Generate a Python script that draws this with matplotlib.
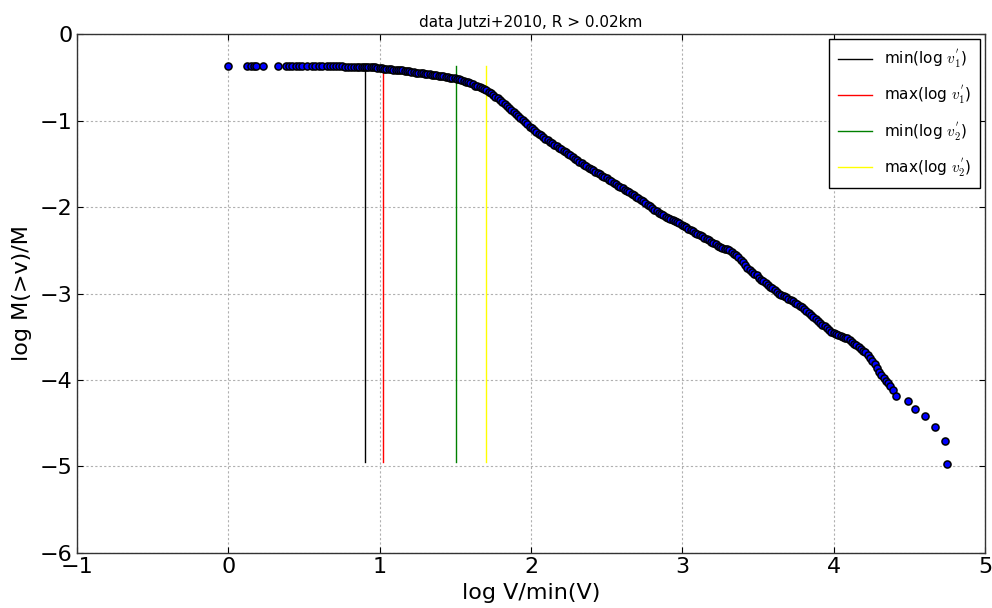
import matplotlib
matplotlib.use("Agg")
import matplotlib.pyplot as plt

# ---- data ----
x_sparse = [0.0, 0.126, 0.15, 0.17, 0.18, 0.23, 0.325, 0.38, 0.40, 0.42, 0.45, 0.47,
            0.49, 0.52, 0.55, 0.57, 0.60, 0.62, 0.65, 0.67, 0.69, 0.71, 0.73, 0.75,
            0.77, 0.79, 0.81, 0.83, 0.85, 0.865]
y_sparse = [-0.37, -0.37, -0.37, -0.37, -0.37, -0.37, -0.37, -0.37, -0.37, -0.37, -0.37, -0.37,
            -0.37, -0.37, -0.37, -0.37, -0.37, -0.37, -0.372, -0.372, -0.373, -0.374, -0.375, -0.375,
            -0.376, -0.377, -0.378, -0.379, -0.38, -0.38]

x_dense = [0.88, 0.895, 0.91, 0.925, 0.94, 0.955, 0.97, 0.985, 1.00, 1.015, 1.03, 1.045,
           1.06, 1.075, 1.09, 1.105, 1.12, 1.135, 1.15, 1.165, 1.18, 1.195, 1.21, 1.225,
           1.24, 1.255, 1.27, 1.285, 1.30, 1.315, 1.33, 1.345, 1.36, 1.375, 1.39, 1.405,
           1.42, 1.435, 1.45, 1.465, 1.48, 1.495, 1.51, 1.525, 1.54, 1.555, 1.57, 1.585,
           1.60, 1.615, 1.63, 1.645, 1.66, 1.675, 1.69, 1.705, 1.72, 1.735, 1.75, 1.765,
           1.78, 1.795, 1.81, 1.825, 1.84, 1.855, 1.87, 1.885, 1.90, 1.915, 1.93, 1.945,
           1.96, 1.975, 1.99, 2.005, 2.02, 2.035, 2.05, 2.065, 2.08, 2.095, 2.11, 2.125,
           2.14, 2.155, 2.17, 2.185, 2.20, 2.215, 2.23, 2.245, 2.26, 2.275, 2.29, 2.305,
           2.32, 2.335, 2.35, 2.365, 2.38, 2.395, 2.41, 2.425, 2.44, 2.455, 2.47, 2.485,
           2.50, 2.515, 2.53, 2.545, 2.56, 2.575, 2.59, 2.605, 2.62, 2.635, 2.65, 2.665,
           2.68, 2.695, 2.71, 2.725, 2.74, 2.755, 2.77, 2.785, 2.80, 2.815, 2.83, 2.845,
           2.86, 2.875, 2.89, 2.905, 2.92, 2.935, 2.95, 2.965, 2.98, 2.995, 3.01, 3.025,
           3.04, 3.055, 3.07, 3.085, 3.10, 3.115, 3.13, 3.145, 3.16, 3.175, 3.19, 3.205,
           3.22, 3.235, 3.25, 3.265, 3.28, 3.295, 3.31, 3.325, 3.34, 3.355, 3.37, 3.385,
           3.40, 3.415, 3.43, 3.445, 3.46, 3.475, 3.49, 3.505, 3.52, 3.535, 3.55, 3.565,
           3.58, 3.595, 3.61, 3.625, 3.64, 3.655, 3.67, 3.685, 3.70, 3.715, 3.73, 3.745,
           3.76, 3.775, 3.79, 3.805, 3.82, 3.835, 3.85, 3.865, 3.88, 3.895, 3.91, 3.925,
           3.94, 3.955, 3.97, 3.985, 4.00, 4.015, 4.03, 4.045, 4.06, 4.075, 4.09, 4.105,
           4.12, 4.135, 4.15, 4.165, 4.18, 4.195, 4.21, 4.225, 4.24, 4.255, 4.27, 4.285,
           4.30, 4.315, 4.33, 4.345, 4.36, 4.375, 4.39, 4.41]
y_dense = [-0.38, -0.38, -0.38, -0.383, -0.385, -0.385, -0.385, -0.388, -0.39, -0.395, -0.40, -0.40,
           -0.40, -0.405, -0.41, -0.413, -0.415, -0.418, -0.42, -0.425, -0.43, -0.433, -0.435, -0.44,
           -0.445, -0.448, -0.45, -0.455, -0.46, -0.463, -0.465, -0.47, -0.475, -0.478, -0.48, -0.485,
           -0.49, -0.495, -0.50, -0.503, -0.505, -0.51, -0.515, -0.522, -0.53, -0.54, -0.55, -0.56,
           -0.57, -0.583, -0.595, -0.605, -0.615, -0.625, -0.635, -0.65, -0.665, -0.683, -0.70, -0.723,
           -0.745, -0.768, -0.79, -0.813, -0.835, -0.858, -0.88, -0.903, -0.925, -0.948, -0.97, -0.995,
           -1.02, -1.045, -1.07, -1.09, -1.11, -1.13, -1.15, -1.17, -1.19, -1.21, -1.23, -1.248,
           -1.265, -1.283, -1.30, -1.315, -1.33, -1.348, -1.365, -1.383, -1.40, -1.42, -1.44, -1.46,
           -1.48, -1.495, -1.51, -1.528, -1.545, -1.56, -1.575, -1.59, -1.605, -1.623, -1.64, -1.655,
           -1.67, -1.685, -1.70, -1.718, -1.735, -1.753, -1.77, -1.785, -1.80, -1.815, -1.83, -1.848,
           -1.865, -1.883, -1.90, -1.918, -1.935, -1.955, -1.975, -1.993, -2.01, -2.03, -2.05, -2.065,
           -2.08, -2.095, -2.11, -2.123, -2.135, -2.15, -2.165, -2.178, -2.19, -2.205, -2.22, -2.235,
           -2.25, -2.265, -2.28, -2.295, -2.31, -2.325, -2.34, -2.355, -2.37, -2.385, -2.40, -2.415,
           -2.43, -2.445, -2.46, -2.47, -2.48, -2.49, -2.50, -2.52, -2.54, -2.56, -2.58, -2.61,
           -2.64, -2.675, -2.71, -2.73, -2.75, -2.77, -2.79, -2.815, -2.84, -2.86, -2.88, -2.90,
           -2.92, -2.94, -2.96, -2.98, -3.00, -3.015, -3.03, -3.045, -3.06, -3.075, -3.09, -3.105,
           -3.12, -3.14, -3.16, -3.18, -3.20, -3.225, -3.25, -3.275, -3.30, -3.32, -3.34, -3.36,
           -3.38, -3.40, -3.42, -3.44, -3.46, -3.47, -3.48, -3.49, -3.50, -3.51, -3.52, -3.54,
           -3.56, -3.58, -3.60, -3.62, -3.64, -3.66, -3.68, -3.715, -3.75, -3.785, -3.82, -3.865,
           -3.91, -3.945, -3.98, -4.01, -4.04, -4.075, -4.11, -4.18]

x_tail = [4.49, 4.536, 4.60, 4.67, 4.735, 4.75]
y_tail = [-4.24, -4.33, -4.42, -4.54, -4.70, -4.97]

vline_x = [0.90, 1.02, 1.505, 1.705]
vline_colors = ["black", "red", "green", "yellow"]
vline_labels = [r"min(log $v^{'}_1$)", r"max(log $v^{'}_1$)",
                r"min(log $v^{'}_2$)", r"max(log $v^{'}_2$)"]
vline_ymin, vline_ymax = -4.95, -0.37

xticks = [-1, 0, 1, 2, 3, 4, 5]
yticks = [-6, -5, -4, -3, -2, -1, 0]

plt.rcParams["mathtext.fontset"] = "cm"
fig = plt.figure(figsize=(9.92, 6.08), dpi=100)
ax = fig.add_axes([0.0776, 0.0905, 0.9154, 0.8535])

xs = x_sparse + x_dense + x_tail
ys = y_sparse + y_dense + y_tail
ax.scatter(xs, ys, s=26, c="blue", edgecolors="black", linewidths=1.1, zorder=3)

for xv, col, lab in zip(vline_x, vline_colors, vline_labels):
    ax.plot([xv, xv], [vline_ymin, vline_ymax], color=col, lw=1.0, label=lab, zorder=2)

ax.set_xlim(-1, 5)
ax.set_ylim(-6, 0)
ax.set_xticks(xticks)
ax.set_yticks(yticks)
ax.set_xticklabels([("\u2212%d" % -t) if t < 0 else "%d" % t for t in xticks])
ax.set_yticklabels([("\u2212%d" % -t) if t < 0 else "%d" % t for t in yticks])
ax.tick_params(direction="in", top=True, right=True, labelsize=16, length=4, width=0.8, pad=3)
ax.grid(True, color="#b0b0b0", linestyle=(0, (2, 2)), linewidth=0.8)
ax.set_axisbelow(True)
for sp in ax.spines.values():
    sp.set_linewidth(1.0)
    sp.set_color("#333333")

ax.set_xlabel("log V/min(V)", fontsize=16, labelpad=4)
ax.set_ylabel("log M(>v)/M", fontsize=16, labelpad=6)
ax.set_title("data Jutzi+2010, R > 0.02km", fontsize=11, pad=5)

leg = ax.legend(loc="upper right", fontsize=11, fancybox=False, framealpha=1,
                edgecolor="black", handlelength=2.2, borderpad=0.6, labelspacing=0.9,
                borderaxespad=0.3)
leg.get_frame().set_linewidth(1.0)

fig.savefig("out.png", dpi=100)
